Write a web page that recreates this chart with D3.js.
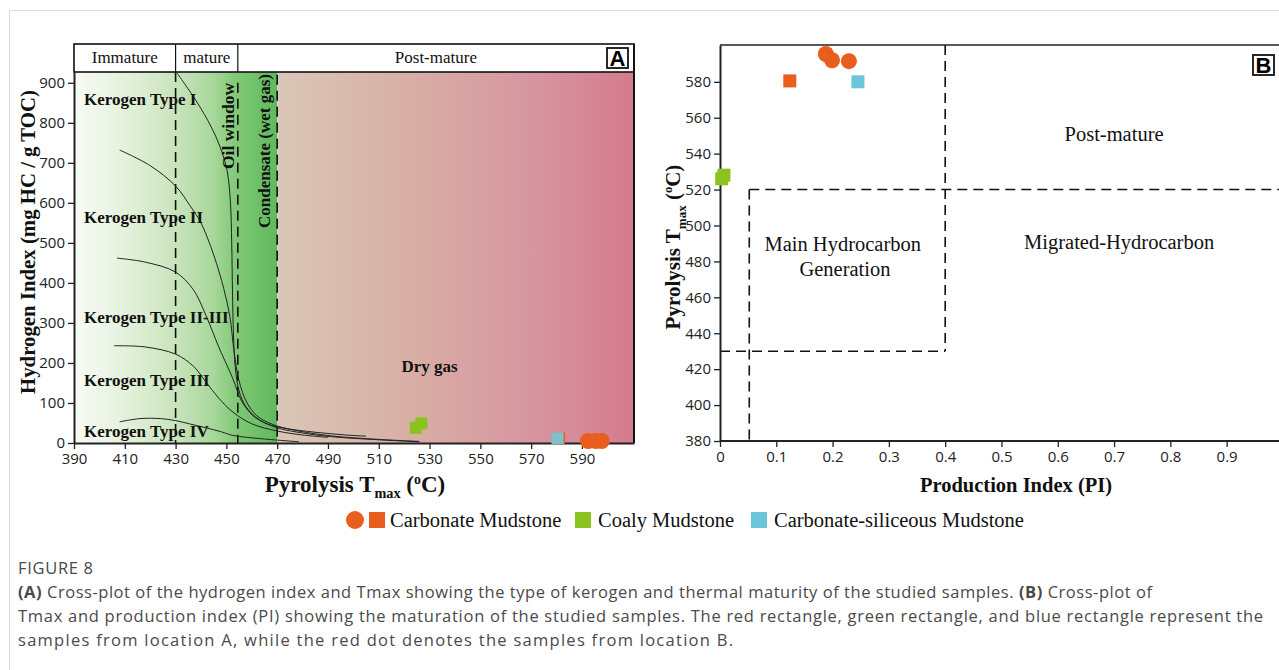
<!DOCTYPE html>
<html>
<head>
<meta charset="utf-8">
<script src="https://cdn.jsdelivr.net/npm/d3@7"></script>
<style>
  body { margin: 0; background: #fff; }
  svg { display: block; }
</style>
</head>
<body>
<div id="chart"></div>
<script>
// ---- data ----
var hiTicks = [0, 100, 200, 300, 400, 500, 600, 700, 800, 900];
var tmaxTicks = [390, 410, 430, 450, 470, 490, 510, 530, 550, 570, 590];
var piTicks = [0, 0.1, 0.2, 0.3, 0.4, 0.5, 0.6, 0.7, 0.8, 0.9];
var tmaxBTicks = [380, 400, 420, 440, 460, 480, 500, 520, 540, 560, 580];

// kerogen curves [Tmax, HI]
var typeI = [[430.5,925],[438.4,852],[444,790],[447.5,740],[450.3,680],[451.6,600],[452.1,500],[452.4,380],[452.8,270],[453.5,190],[455,130],[458,88],[463,58],[470,38],[480,25],[491,16],[510,8],[526,3]];
var typeII = [[408,732],[420,693],[430,642],[436,590],[440,550],[445,470],[449,385],[451.4,315],[453,230],[455,155],[458,102],[462,68],[468,47],[476,33],[491,18],[510,9],[526,4]];
var typeIIIII = [[406.9,462],[418,452],[430,427],[437,383],[442,318],[447,240],[452.6,160],[456,105],[460.5,68],[466,48],[472,38],[482,29],[497,20],[505,17]];
var typeIII = [[405.7,243],[418,240],[430,222],[437,192],[442,152],[447,112],[452.6,77],[460,48],[470,30],[480,20],[490,14]];
var typeIV = [[408,53],[416,61],[424,61],[430,56],[436,47],[442,38],[448,28],[452.6,19],[465,10],[478.6,3]];
var curves = [typeI, typeII, typeIIIII, typeIII, typeIV];
var curveLabels = ["Kerogen Type I", "Kerogen Type II", "Kerogen Type II-III", "Kerogen Type III", "Kerogen Type IV"];
var curveLabelHI = [858, 563, 313, 155, 28];

// samples: panel A (Tmax, HI)
var carbSquaresA = [[581, 12]];
var coalySquaresA = [[524.6, 38], [526.8, 49]];
var siliceousSquaresA = [[580.4, 12]];
var carbDotsA = [[592.4, 5], [595.5, 5], [597.8, 5]];

// samples: panel B (PI, Tmax)
var carbSquaresB = [[0.124, 580.5]];
var coalySquaresB = [[0.003, 526], [0.007, 528]];
var siliceousSquaresB = [[0.245, 580]];
var carbDotsB = [[0.188, 595.5], [0.199, 592], [0.229, 591.5]];

var orange = "#e95d1e", green = "#8cc21f", blue = "#6cc5da";
var serif = "'Liberation Serif', 'Times New Roman', serif";
var sans = "'Open Sans', 'Noto Sans', sans-serif";

var svg = d3.select("#chart").append("svg")
  .attr("width", 1279).attr("height", 670);

// page frame
svg.append("path").attr("d", "M9.5,670V10.5H1279").attr("fill", "none").attr("stroke", "#dcdcdc");

// ================= Panel A =================
var xA = d3.scaleLinear().domain([390, 610.5]).range([74, 634]);
var yA = d3.scaleLinear().domain([0, 927]).range([443, 72]);

var defs = svg.append("defs");
var gGreen = defs.append("linearGradient").attr("id", "gGreen");
[[0, "#f8fbf6"], [0.25, "#e4f1dc"], [0.5, "#c9e4bc"], [0.68, "#a9d89c"], [0.8, "#80c876"], [1, "#5fb95c"]]
  .forEach(function(s) { gGreen.append("stop").attr("offset", s[0]).attr("stop-color", s[1]); });
var gPink = defs.append("linearGradient").attr("id", "gPink");
[[0, "#dac7b7"], [0.35, "#d8b0a6"], [0.7, "#d797a0"], [1, "#d47b8d"]]
  .forEach(function(s) { gPink.append("stop").attr("offset", s[0]).attr("stop-color", s[1]); });

svg.append("rect").attr("x", xA(390)).attr("y", yA(927))
  .attr("width", xA(470) - xA(390)).attr("height", yA(0) - yA(927)).attr("fill", "url(#gGreen)");
svg.append("rect").attr("x", xA(470)).attr("y", yA(927))
  .attr("width", xA(610.5) - xA(470)).attr("height", yA(0) - yA(927)).attr("fill", "url(#gPink)");

// dashed boundaries
[[430, 927], [454.5, 900], [470, 920]].forEach(function(d) {
  svg.append("line").attr("x1", xA(d[0])).attr("x2", xA(d[0]))
    .attr("y1", yA(d[1])).attr("y2", yA(0))
    .attr("stroke", "#111").attr("stroke-width", 1.6).attr("stroke-dasharray", "10,6");
});

// kerogen curves
var line = d3.line().x(function(d) { return xA(d[0]); }).y(function(d) { return yA(d[1]); })
  .curve(d3.curveCatmullRom.alpha(0.5));
svg.selectAll(".kcurve").data(curves).enter().append("path")
  .attr("class", "kcurve").attr("d", line)
  .attr("fill", "none").attr("stroke", "#222").attr("stroke-width", 1);

svg.selectAll(".klab").data(curveLabels).enter().append("text")
  .attr("x", 84).attr("y", function(d, i) { return yA(curveLabelHI[i]) + 5; })
  .attr("font-family", serif).attr("font-weight", "bold").attr("font-size", 17)
  .attr("fill", "#111").text(function(d) { return d; });

svg.append("text").attr("transform", "translate(" + 234 + "," + 126 + ") rotate(-90)")
  .attr("text-anchor", "middle").attr("font-family", serif).attr("font-weight", "bold")
  .attr("font-size", 17.5).attr("fill", "#111").text("Oil window");
svg.append("text").attr("transform", "translate(" + 270 + "," + 151 + ") rotate(-90)")
  .attr("text-anchor", "middle").attr("font-family", serif).attr("font-weight", "bold")
  .attr("font-size", 17).attr("fill", "#111").text("Condensate (wet gas)");
svg.append("text").attr("x", xA(530)).attr("y", yA(178))
  .attr("text-anchor", "middle").attr("font-family", serif).attr("font-weight", "bold")
  .attr("font-size", 17).attr("fill", "#111").text("Dry gas");

// header bar
var hdr = svg.append("g");
hdr.append("rect").attr("x", xA(390)).attr("y", 44).attr("width", xA(610.5) - xA(390)).attr("height", 28)
  .attr("fill", "#fff").attr("stroke", "#111").attr("stroke-width", 1.6);
[430, 454.5].forEach(function(v) {
  hdr.append("line").attr("x1", xA(v)).attr("x2", xA(v)).attr("y1", 44).attr("y2", 72)
    .attr("stroke", "#111").attr("stroke-width", 1.2);
});
[["Immature", 410], ["mature", 442.3], ["Post-mature", 532.5]].forEach(function(d) {
  hdr.append("text").attr("x", xA(d[1])).attr("y", 63).attr("text-anchor", "middle")
    .attr("font-family", serif).attr("font-size", 17).attr("fill", "#111").text(d[0]);
});

// right border
svg.append("line").attr("x1", xA(610.5)).attr("x2", xA(610.5)).attr("y1", 44).attr("y2", yA(0))
  .attr("stroke", "#111").attr("stroke-width", 2);

// panel letter
function panelLetter(x, y, t) {
  svg.append("rect").attr("x", x).attr("y", y).attr("width", 21).attr("height", 20)
    .attr("fill", "#fff").attr("stroke", "#111").attr("stroke-width", 1.8);
  svg.append("text").attr("x", x + 10.5).attr("y", y + 18).attr("text-anchor", "middle")
    .attr("font-family", "'Liberation Sans', Arial, sans-serif").attr("font-weight", "bold")
    .attr("font-size", 22).attr("fill", "#000").text(t);
}
panelLetter(607, 48, "A");

// axes A
var axA_y = svg.append("g").attr("transform", "translate(" + xA(390) + ",0)")
  .call(d3.axisLeft(yA).tickValues(hiTicks).tickSize(6).tickPadding(3).tickSizeOuter(0));
var axA_x = svg.append("g").attr("transform", "translate(0," + yA(0) + ")")
  .call(d3.axisBottom(xA).tickValues(tmaxTicks).tickSize(6).tickPadding(4).tickSizeOuter(0));

// ================= Panel B =================
var xB = d3.scaleLinear().domain([0, 0.993]).range([720, 1279]);
var yB = d3.scaleLinear().domain([380, 600.5]).range([441, 45]);

var dash = function(sel) {
  return sel.attr("stroke", "#111").attr("stroke-width", 1.6).attr("stroke-dasharray", "10,6").attr("fill", "none");
};
dash(svg.append("line").attr("x1", xB(0.4)).attr("x2", xB(0.4)).attr("y1", yB(600.5)).attr("y2", yB(430)));
dash(svg.append("line").attr("x1", xB(0)).attr("x2", xB(0.4)).attr("y1", yB(430)).attr("y2", yB(430)));
dash(svg.append("line").attr("x1", xB(0.052)).attr("x2", xB(0.993)).attr("y1", yB(520)).attr("y2", yB(520)));
dash(svg.append("line").attr("x1", xB(0.052)).attr("x2", xB(0.052)).attr("y1", yB(520)).attr("y2", yB(380)));

svg.append("line").attr("x1", xB(0)).attr("x2", 1279).attr("y1", yB(600.5)).attr("y2", yB(600.5))
  .attr("stroke", "#222").attr("stroke-width", 1.6);

[["Post-mature", 0.7, 141], ["Main Hydrocarbon", 0.218, 251], ["Generation", 0.222, 276], ["Migrated-Hydrocarbon", 0.709, 249]]
  .forEach(function(d) {
    svg.append("text").attr("x", xB(d[1])).attr("y", d[2]).attr("text-anchor", "middle")
      .attr("font-family", serif).attr("font-size", 20.5).attr("fill", "#111").text(d[0]);
  });

panelLetter(1253, 55, "B");

var axB_y = svg.append("g").attr("transform", "translate(" + xB(0) + ",0)")
  .call(d3.axisLeft(yB).tickValues(tmaxBTicks).tickSize(6).tickPadding(3).tickSizeOuter(0));
var axB_x = svg.append("g").attr("transform", "translate(0," + yB(380) + ")")
  .call(d3.axisBottom(xB).tickValues(piTicks).tickSize(6).tickPadding(4).tickSizeOuter(0)
    .tickFormat(function(d) { return d === 0 ? "0" : d3.format(".1f")(d); }));

[axA_y, axA_x, axB_y, axB_x].forEach(function(a) {
  a.selectAll("text").attr("font-family", sans).attr("font-size", 15).attr("fill", "#222");
  a.selectAll("line").attr("stroke", "#222").attr("stroke-width", 1.3);
  a.select(".domain").attr("stroke", "#222").attr("stroke-width", 2);
});
axB_x.select(".domain").attr("d", "M720,0H1279");

// ================= samples =================
function squares(data, x, y, color, size) {
  svg.append("g").selectAll("rect").data(data).enter().append("rect")
    .attr("x", function(d) { return x(d[0]) - size / 2; })
    .attr("y", function(d) { return y(d[1]) - size / 2; })
    .attr("width", size).attr("height", size).attr("fill", color);
}
function dots(data, x, y, color, r) {
  svg.append("g").selectAll("circle").data(data).enter().append("circle")
    .attr("cx", function(d) { return x(d[0]); })
    .attr("cy", function(d) { return y(d[1]); })
    .attr("r", r).attr("fill", color);
}
squares(carbSquaresA, xA, yA, orange, 12);
squares(siliceousSquaresA, xA, yA, "#7fc0c9", 12);
squares(coalySquaresA, xA, yA, green, 12);
dots(carbDotsA, xA, yA, orange, 8);

squares(coalySquaresB, xB, yB, green, 13);
squares(carbSquaresB, xB, yB, orange, 13);
squares(siliceousSquaresB, xB, yB, blue, 13);
dots(carbDotsB, xB, yB, orange, 8);

// ================= axis titles =================
var title = function(sel, size) {
  return sel.attr("font-family", serif).attr("font-weight", "bold").attr("font-size", size).attr("fill", "#111");
};
title(svg.append("text").attr("transform", "translate(35,242) rotate(-90)").attr("text-anchor", "middle"), 20.8)
  .text("Hydrogen Index (mg HC / g TOC)");

function tmaxTitle(t, s) {
  t.append("tspan").text("Pyrolysis T");
  t.append("tspan").attr("font-size", s * 0.62).attr("dy", 6).text("max");
  t.append("tspan").attr("dy", -6).text(" (");
  t.append("tspan").attr("font-size", s * 0.6).attr("dy", -8).text("o");
  t.append("tspan").attr("dy", 8).text("C)");
}
tmaxTitle(title(svg.append("text").attr("x", 355).attr("y", 492).attr("text-anchor", "middle"), 23), 23);
tmaxTitle(title(svg.append("text").attr("transform", "translate(680,247) rotate(-90)").attr("text-anchor", "middle"), 21), 21);
title(svg.append("text").attr("x", 1016).attr("y", 492).attr("text-anchor", "middle"), 20.5).text("Production Index (PI)");

// ================= legend =================
var lg = svg.append("g").attr("font-family", serif).attr("font-size", 20.5).attr("fill", "#111");
lg.append("circle").attr("cx", 355).attr("cy", 520).attr("r", 9).attr("fill", orange);
lg.append("rect").attr("x", 369).attr("y", 512).attr("width", 16).attr("height", 16).attr("fill", orange);
lg.append("text").attr("x", 390).attr("y", 527).text("Carbonate Mudstone");
lg.append("rect").attr("x", 575).attr("y", 512).attr("width", 16).attr("height", 16).attr("fill", green);
lg.append("text").attr("x", 598).attr("y", 527).text("Coaly Mudstone");
lg.append("rect").attr("x", 751).attr("y", 512).attr("width", 16).attr("height", 16).attr("fill", blue);
lg.append("text").attr("x", 774).attr("y", 527).text("Carbonate-siliceous Mudstone");

// ================= caption =================
var cap = svg.append("g").attr("font-family", sans).attr("font-size", 16.5).attr("fill", "#4a4a4a");
cap.append("text").attr("x", 18).attr("y", 574).attr("textLength", 75).attr("lengthAdjust", "spacing").text("FIGURE 8");
var l1 = cap.append("text").attr("x", 18).attr("y", 598).attr("textLength", 1134).attr("lengthAdjust", "spacing");
l1.append("tspan").attr("font-weight", "bold").text("(A)");
l1.append("tspan").text(" Cross-plot of the hydrogen index and Tmax showing the type of kerogen and thermal maturity of the studied samples. ");
l1.append("tspan").attr("font-weight", "bold").text("(B)");
l1.append("tspan").text(" Cross-plot of");
cap.append("text").attr("x", 18).attr("y", 622).attr("textLength", 1245).attr("lengthAdjust", "spacing")
  .text("Tmax and production index (PI) showing the maturation of the studied samples. The red rectangle, green rectangle, and blue rectangle represent the");
cap.append("text").attr("x", 18).attr("y", 646).attr("textLength", 715).attr("lengthAdjust", "spacing")
  .text("samples from location A, while the red dot denotes the samples from location B.");
</script>
</body>
</html>
